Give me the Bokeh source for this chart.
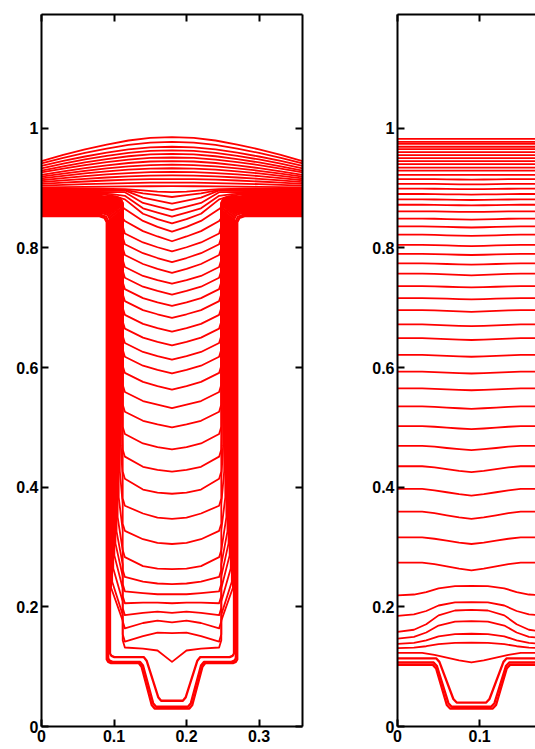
from bokeh.plotting import figure
from bokeh.models import (LinearAxis, FixedTicker, NumeralTickFormatter,
                          CustomJSTickFormatter, Range1d)
from bokeh.layouts import row
from bokeh.embed import file_html
from bokeh.resources import INLINE

RED = "#ff0000"
FONT = "Liberation Sans"

# ---------------- axes / ticks ----------------
Y_TICKS = [0, 0.2, 0.4, 0.6, 0.8, 1.0]
L_X_TICKS = [0, 0.1, 0.2, 0.3]
R_X_TICKS = [0, 0.1]
Y_MAX = 1.19
L_X_MAX = 0.36
R_X_MAX = 0.168

# ---------------- left panel (trench superfill) ----------------
L_XC = 0.18            # trench centre
L_WALL = 0.090         # left trench wall (initial)
L_WALL_IN = 0.112      # inner edge of the side-wall band

# contours hugging the initial two-step trench
L_BOT_FIELD = [0.853, 0.855, 0.858]
L_BOT_WALL = [0.090, 0.092, 0.0945]
L_BOT_STEP = [0.106, 0.108, 0.116]
L_BOT_SLANT_TOP = [0.137, 0.139, 0.144]
L_BOT_SLANT_BOT = [0.153, 0.155, 0.162]
L_BOT_Y = [0.030, 0.033, 0.043]

# trench-filling contours: centre height, offsets at x=0.16 / 0.14 / 0.115,
# side-wall growth and field level
F1_YC = [0.108, 0.156, 0.174, 0.190, 0.206, 0.221, 0.238, 0.263, 0.305, 0.347,
         0.389, 0.426, 0.463, 0.500, 0.532, 0.563, 0.590, 0.613, 0.637, 0.660,
         0.683, 0.703, 0.722, 0.740, 0.758, 0.776, 0.794, 0.811, 0.827, 0.841,
         0.852, 0.863, 0.874, 0.885, 0.893]
F1_DQ = [0.019, 0.001, 0.003, 0.002, 0.001, 0.000, 0.001, 0.001, 0.002, 0.002,
         0.002, 0.003, 0.004, 0.005, 0.006, 0.006, 0.006, 0.006, 0.006, 0.006,
         0.006, 0.006, 0.006, 0.006, 0.007, 0.007, 0.007, 0.008, 0.008, 0.007,
         0.007, 0.006, 0.005, 0.003, 0.001]
F1_DM = [0.022, -0.005, -0.001, 0.000, 0.001, 0.002, 0.004, 0.005, 0.008, 0.009,
         0.007, 0.008, 0.010, 0.011, 0.012, 0.013, 0.013, 0.013, 0.013, 0.013,
         0.013, 0.013, 0.013, 0.013, 0.015, 0.015, 0.015, 0.017, 0.018, 0.016,
         0.014, 0.012, 0.010, 0.006, 0.003]
F1_DS = [0.024, -0.014, -0.010, -0.004, 0.000, 0.005, 0.012, 0.020, 0.022, 0.022,
         0.025, 0.025, 0.026, 0.026, 0.027, 0.028, 0.028, 0.028, 0.028, 0.028,
         0.028, 0.028, 0.028, 0.028, 0.030, 0.030, 0.030, 0.034, 0.038, 0.040,
         0.035, 0.030, 0.022, 0.012, 0.005]
F1_W = [0.006, 0.0075, 0.009, 0.0105, 0.012, 0.0135, 0.015, 0.0165, 0.018, 0.0195,
        0.021, 0.022, 0.022, 0.022, 0.022, 0.022, 0.022, 0.022, 0.022, 0.022,
        0.022, 0.022, 0.022, 0.022, 0.022, 0.022, 0.022, 0.022, 0.022, 0.022,
        0.022, 0.022, 0.022, 0.022, 0.022]
F1_YF = [0.860, 0.861, 0.862, 0.863, 0.864, 0.865, 0.866, 0.867, 0.868, 0.869,
         0.870, 0.871, 0.872, 0.873, 0.874, 0.875, 0.876, 0.877, 0.878, 0.879,
         0.880, 0.881, 0.882, 0.883, 0.884, 0.885, 0.886, 0.887, 0.888, 0.890,
         0.891, 0.893, 0.895, 0.897, 0.899]

# over-fill "bump" contours: level at the panel edges and at the centre
F2_EDGE = [0.901, 0.904, 0.907, 0.910, 0.913, 0.916, 0.919, 0.922, 0.926, 0.929,
           0.933, 0.937, 0.941, 0.945]
F2_CENTER = [0.903, 0.909, 0.915, 0.921, 0.927, 0.933, 0.939, 0.945, 0.951, 0.957,
             0.963, 0.969, 0.977, 0.985]
F2_PX = [0.0, 0.03, 0.06, 0.09, 0.12, 0.15, 0.18]
F2_PW = [0.0, 0.26, 0.49, 0.69, 0.86, 0.97, 1.0]

# ---------------- right panel (shallow trench) ----------------
R_XC = 0.09
R_BOT_YF = [0.103, 0.107, 0.114]
R_BOT_XT = [0.046, 0.047, 0.050]
R_BOT_XB = [0.061, 0.063, 0.069]
R_BOT_YB = [0.030, 0.033, 0.040]

R_BUMP_EDGE = [0.131, 0.138, 0.147, 0.158, 0.185, 0.219]
R_BUMP_CENTER = [0.140, 0.155, 0.176, 0.195, 0.208, 0.235]
R_BUMP_DX = [0.0, 0.02, 0.04, 0.055, 0.07, 0.09]
R_BUMP_W = [1.0, 0.97, 0.75, 0.35, 0.10, 0.0]

R_DIP_EDGE = [0.123, 0.274, 0.316, 0.359, 0.397, 0.435, 0.469, 0.502, 0.535, 0.565,
              0.593, 0.621, 0.649, 0.672, 0.696, 0.716, 0.736, 0.757, 0.774, 0.790,
              0.805, 0.822, 0.836, 0.849, 0.861, 0.872, 0.881, 0.890, 0.899, 0.907,
              0.915, 0.922, 0.929, 0.934, 0.940, 0.945, 0.950, 0.955, 0.960, 0.965,
              0.969, 0.974, 0.977, 0.982]
R_DIP_DEPTH = [0.016, 0.013, 0.011, 0.012, 0.011, 0.010, 0.007, 0.005, 0.004, 0.003,
               0.003, 0.003, 0.003, 0.003, 0.003, 0.002, 0.002, 0.003, 0.002, 0.002,
               0.002, 0.002, 0.002, 0.002, 0.001, 0.001, 0.001, 0.001, 0.001, 0.001,
               0.001, 0.0, 0.0, 0.0, 0.0, 0.0, 0.0, 0.0, 0.0, 0.0,
               0.0, 0.0, 0.0, 0.0]
R_DIP_DX = [0.0, 0.015, 0.03, 0.045, 0.06, 0.09]
R_DIP_W = [1.0, 0.78, 0.5, 0.2, 0.0, 0.0]


# ---------------- geometry helpers ----------------
def mirror(half, xmid):
    xs = [p[0] for p in half]
    ys = [p[1] for p in half]
    xs_full = xs + [2 * xmid - x for x in reversed(xs[:-1])]
    ys_full = ys + list(reversed(ys[:-1]))
    return xs_full, ys_full


def left_bottom_half(yf, wx, step, st, sb, by):
    return [(0.0, yf), (wx - 0.010, yf), (wx - 0.003, yf - 0.003), (wx, yf - 0.010),
            (wx, step + 0.006), (wx + 0.002, step + 0.002), (wx + 0.006, step),
            (st - 0.003, step), (st + 0.001, step - 0.006),
            (sb - 0.001, by + 0.006), (sb + 0.003, by), (L_XC, by)]


def left_fill_half(yc, dq, dm, ds, w, yf):
    ys_, ym, yq = yc + ds, yc + dm, yc + dq
    xw = L_WALL + w
    pts = [(0.0, yf)]
    if ys_ + 0.10 < yf - 0.012:
        pts += [(xw - 0.010, yf), (xw - 0.003, yf - 0.003), (xw, yf - 0.010),
                (xw, ys_ + 0.10), (L_WALL_IN, ys_ + 0.045),
                (L_WALL_IN, ys_ + 0.012)]
    elif ys_ + 0.035 < yf - 0.012:
        pts += [(L_WALL_IN - 0.010, yf), (L_WALL_IN - 0.003, yf - 0.003),
                (L_WALL_IN, yf - 0.010), (L_WALL_IN, ys_ + 0.012)]
    else:
        pts += [(0.080, yf), (0.097, yf - 0.3 * (yf - ys_))]
    pts += [(0.115, ys_), (0.140, ym), (0.160, yq), (L_XC, yc)]
    return pts


def right_bottom_half(yf, xt, xb, yb):
    return [(0.0, yf), (xt - 0.003, yf), (xt + 0.001, yf - 0.006),
            (xb - 0.001, yb + 0.006), (xb + 0.003, yb), (R_XC, yb)]


def profile_half(edge, center, dxs, ws):
    pts = []
    for d, w in zip(reversed(dxs), reversed(ws)):
        pts.append((R_XC - d, edge + (center - edge) * w))
    return pts


# ---------------- build contour lists ----------------
lb_xs, lb_ys = [], []
for yf, wx, st_y, st, sb, by in zip(L_BOT_FIELD, L_BOT_WALL, L_BOT_STEP,
                                     L_BOT_SLANT_TOP, L_BOT_SLANT_BOT, L_BOT_Y, strict=True):
    x, y = mirror(left_bottom_half(yf, wx, st_y, st, sb, by), L_XC)
    lb_xs.append(x); lb_ys.append(y)

lf_xs, lf_ys = [], []
for yc, dq, dm, ds, w, yf in zip(F1_YC, F1_DQ, F1_DM, F1_DS, F1_W, F1_YF, strict=True):
    x, y = mirror(left_fill_half(yc, dq, dm, ds, w, yf), L_XC)
    lf_xs.append(x); lf_ys.append(y)
for e, c in zip(F2_EDGE, F2_CENTER, strict=True):
    half = [(px, e + (c - e) * pw) for px, pw in zip(F2_PX, F2_PW)]
    x, y = mirror(half, L_XC)
    lf_xs.append(x); lf_ys.append(y)

rb_xs, rb_ys = [], []
for yf, xt, xb, yb in zip(R_BOT_YF, R_BOT_XT, R_BOT_XB, R_BOT_YB, strict=True):
    x, y = mirror(right_bottom_half(yf, xt, xb, yb), R_XC)
    rb_xs.append(x); rb_ys.append(y)

rl_xs, rl_ys = [], []
for e, c in zip(R_BUMP_EDGE, R_BUMP_CENTER, strict=True):
    x, y = mirror(profile_half(e, c, R_BUMP_DX, R_BUMP_W), R_XC)
    rl_xs.append(x); rl_ys.append(y)
for e, d in zip(R_DIP_EDGE, R_DIP_DEPTH, strict=True):
    x, y = mirror(profile_half(e, e - d, R_DIP_DX, R_DIP_W), R_XC)
    rl_xs.append(x); rl_ys.append(y)


# ---------------- figures ----------------
def add_axis(p, side, ticks, show_labels):
    ax = LinearAxis(ticker=FixedTicker(ticks=ticks))
    ax.axis_line_width = 2
    ax.axis_line_color = "black"
    ax.major_tick_in = 7
    ax.major_tick_out = 0
    ax.major_tick_line_width = 2
    ax.major_tick_line_color = "black"
    ax.minor_tick_line_color = None
    if show_labels:
        ax.formatter = NumeralTickFormatter(format="0.[0]")
        ax.major_label_text_font = FONT
        ax.major_label_text_font_style = "bold"
        ax.major_label_text_font_size = "16px"
        ax.major_label_text_color = "black"
        ax.major_label_standoff = 3
    else:
        ax.formatter = CustomJSTickFormatter(code="return ''")
        ax.major_label_text_font_size = "0px"
        ax.major_label_standoff = 0
    p.add_layout(ax, side)


def make_fig(width, xmax, border_left, border_right, border_bottom):
    p = figure(width=width, height=749, x_range=Range1d(0, xmax),
               y_range=Range1d(0, Y_MAX), output_backend="svg",
               toolbar_location=None, x_axis_location=None, y_axis_location=None,
               min_border_left=border_left, min_border_right=border_right,
               min_border_top=14, min_border_bottom=border_bottom)
    p.outline_line_color = None
    p.background_fill_color = "white"
    p.border_fill_color = "white"
    p.xgrid.visible = False
    p.ygrid.visible = False
    return p


p1 = make_fig(312, L_X_MAX, 41, 10, 23)
p1.multi_line(xs=lf_xs, ys=lf_ys, line_color=RED, line_width=1.8, line_join="round")
p1.multi_line(xs=lb_xs, ys=lb_ys, line_color=RED, line_width=2.3, line_join="round")
add_axis(p1, "left", Y_TICKS, True)
add_axis(p1, "right", Y_TICKS, False)
add_axis(p1, "above", L_X_TICKS, False)
add_axis(p1, "below", L_X_TICKS, True)

p2 = make_fig(223, R_X_MAX, 85, 0, 16)
p2.multi_line(xs=rl_xs, ys=rl_ys, line_color=RED, line_width=1.8, line_join="round")
p2.multi_line(xs=rb_xs, ys=rb_ys, line_color=RED, line_width=2.3, line_join="round")
add_axis(p2, "left", Y_TICKS, True)
add_axis(p2, "above", R_X_TICKS, False)
add_axis(p2, "below", R_X_TICKS, True)

layout = row(p1, p2)
open("out.html", "w").write(file_html(layout, INLINE))
